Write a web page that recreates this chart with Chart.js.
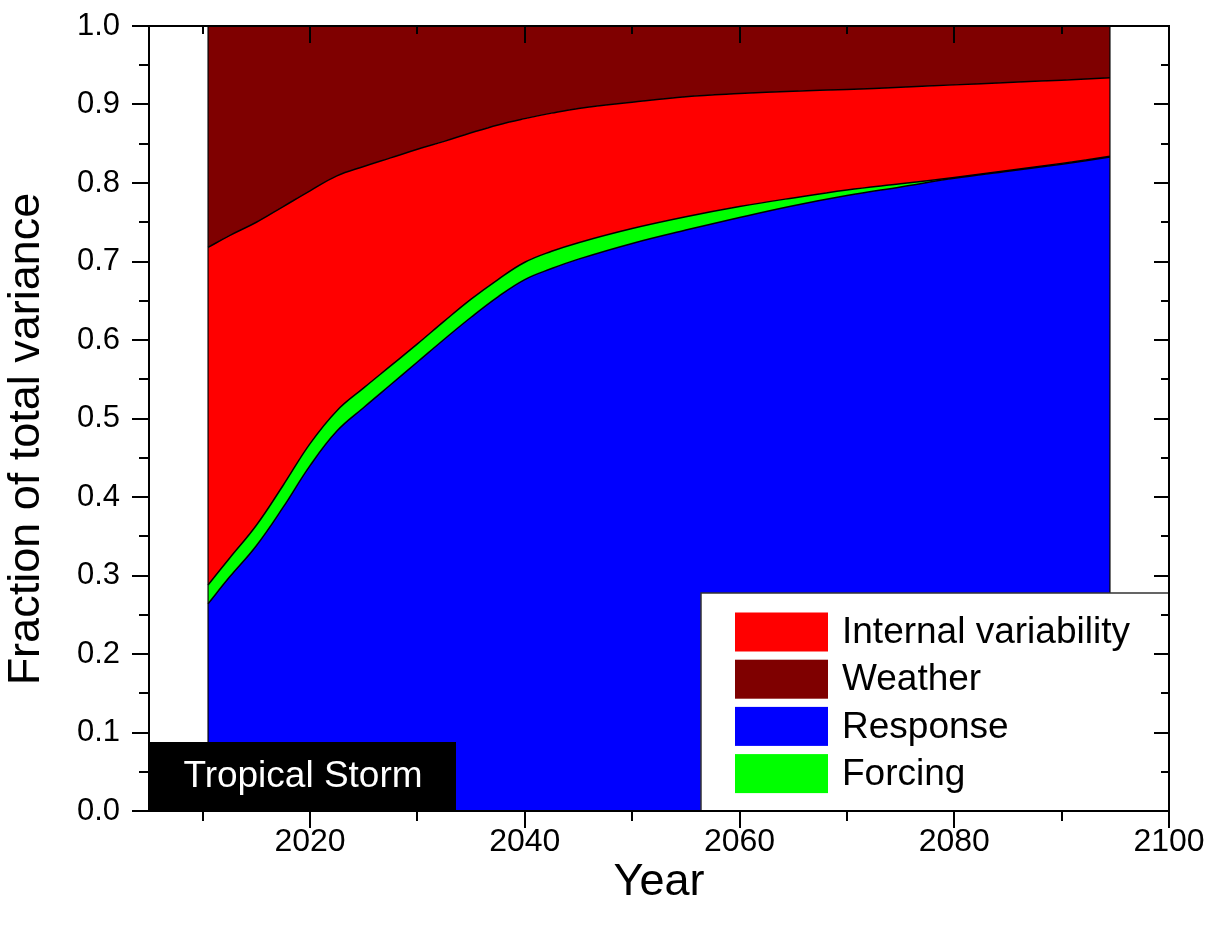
<!DOCTYPE html>
<html><head><meta charset="utf-8">
<script src="https://cdn.jsdelivr.net/npm/chart.js@4.4.1/dist/chart.umd.min.js"></script>
<style>html,body{margin:0;padding:0;background:#fff;}canvas{display:block;}</style>
</head><body>
<canvas id="c" width="1217" height="942"></canvas>
<script>
// ---------- data ----------
const years = [2010.5, 2012.5, 2015, 2017.5, 2020, 2022.5, 2025, 2027.5, 2030, 2032.5, 2035, 2037.5, 2040, 2042.5, 2045, 2050, 2055, 2060, 2065, 2070, 2075, 2080, 2085, 2090, 2094.5];
const response    = [0.264, 0.298, 0.338, 0.387, 0.440, 0.484, 0.514, 0.543, 0.572, 0.601, 0.629, 0.655, 0.677, 0.691, 0.703, 0.723, 0.740, 0.756, 0.771, 0.784, 0.795, 0.806, 0.815, 0.824, 0.833];
const forcing     = [0.024, 0.024, 0.026, 0.028, 0.028, 0.026, 0.025, 0.024, 0.023, 0.023, 0.023, 0.022, 0.022, 0.022, 0.021, 0.019, 0.017, 0.014, 0.010, 0.007, 0.004, 0.001, 0.001, 0.001, 0.001];
const internalVar = [0.430, 0.411, 0.386, 0.355, 0.322, 0.299, 0.282, 0.265, 0.248, 0.229, 0.212, 0.197, 0.183, 0.176, 0.171, 0.161, 0.153, 0.144, 0.136, 0.128, 0.123, 0.118, 0.112, 0.106, 0.100];
const weather     = [0.282, 0.267, 0.250, 0.230, 0.210, 0.191, 0.179, 0.168, 0.157, 0.147, 0.136, 0.126, 0.118, 0.111, 0.105, 0.097, 0.090, 0.086, 0.083, 0.081, 0.078, 0.075, 0.072, 0.069, 0.066];
const yTicks = [0.0, 0.1, 0.2, 0.3, 0.4, 0.5, 0.6, 0.7, 0.8, 0.9, 1.0];
const yMinorTicks = [0.05, 0.15, 0.25, 0.35, 0.45, 0.55, 0.65, 0.75, 0.85, 0.95];
const xTicks = [2020, 2040, 2060, 2080, 2100];
const xMinorTicks = [2010, 2030, 2050, 2070, 2090];
const xRange = [2005, 2100];
const seriesNames = ['Response', 'Forcing', 'Internal variability', 'Weather'];
const seriesColors = ['#0000ff', '#00ff00', '#ff0000', '#7f0000'];
const legendOrder = [2, 3, 0, 1];
const panelLabel = 'Tropical Storm';
const xTitle = 'Year';
const yTitle = 'Fraction of total variance';
// ---------------------------

const FONT = '"Liberation Sans", Arial, sans-serif';
const seriesValues = [response, forcing, internalVar, weather];

const datasets = seriesValues.map((vals, i) => ({
  label: seriesNames[i],
  data: years.map((x, j) => ({x: x, y: vals[j]})),
  backgroundColor: seriesColors[i],
  borderColor: '#000',
  borderWidth: 1.5,
  pointRadius: 0,
  fill: i === 0 ? 'origin' : '-1',
  tension: 0.4
}));

const decor = {
  id: 'decor',
  afterDatasetsDraw(chart) {
    const {ctx, chartArea: a, scales: {x, y}} = chart;
    ctx.save();
    ctx.strokeStyle = '#000'; ctx.lineWidth = 1.2;
    [years[0], years[years.length - 1]].forEach(v => {
      const px = x.getPixelForValue(v);
      ctx.beginPath(); ctx.moveTo(px, y.getPixelForValue(0)); ctx.lineTo(px, y.getPixelForValue(1)); ctx.stroke();
    });
    // panel label box
    ctx.fillStyle = '#000';
    ctx.fillRect(a.left, 742, 307, a.bottom - 742);
    ctx.fillStyle = '#fff';
    ctx.font = '37px ' + FONT;
    ctx.textAlign = 'center'; ctx.textBaseline = 'middle';
    ctx.fillText(panelLabel, a.left + 154, 777);
    // legend
    const lx = 701, ly = 593;
    ctx.fillStyle = '#fff';
    ctx.fillRect(lx, ly, a.right - lx, a.bottom - ly);
    ctx.strokeStyle = '#333'; ctx.lineWidth = 1.5;
    ctx.strokeRect(lx, ly, a.right - lx, a.bottom - ly);
    ctx.font = '37px ' + FONT;
    ctx.textAlign = 'left'; ctx.textBaseline = 'middle';
    legendOrder.forEach((di, k) => {
      const ds = chart.data.datasets[di];
      const cy = 632 + k * 47.2;
      ctx.fillStyle = ds.backgroundColor;
      ctx.fillRect(735, cy - 19.5, 93, 39);
      ctx.fillStyle = '#000';
      ctx.fillText(ds.label, 842, cy + 1);
    });
    ctx.restore();
  },
  afterDraw(chart) {
    const {ctx, chartArea: a, scales: {x, y}} = chart;
    ctx.save();
    ctx.strokeStyle = '#000'; ctx.lineWidth = 2;
    ctx.strokeRect(a.left, a.top, a.right - a.left, a.bottom - a.top);
    ctx.beginPath();
    yTicks.forEach(v => {
      const py = Math.round(y.getPixelForValue(v));
      ctx.moveTo(a.left - 17, py); ctx.lineTo(a.left, py);
      ctx.moveTo(a.right - 15, py); ctx.lineTo(a.right, py);
    });
    yMinorTicks.forEach(v => {
      const py = Math.round(y.getPixelForValue(v));
      ctx.moveTo(a.left - 10, py); ctx.lineTo(a.left, py);
      ctx.moveTo(a.right - 8, py); ctx.lineTo(a.right, py);
    });
    xTicks.forEach(v => {
      const px = Math.round(x.getPixelForValue(v));
      ctx.moveTo(px, a.bottom); ctx.lineTo(px, a.bottom + 17);
      ctx.moveTo(px, a.top); ctx.lineTo(px, a.top + 17);
    });
    xMinorTicks.forEach(v => {
      const px = Math.round(x.getPixelForValue(v));
      ctx.moveTo(px, a.bottom); ctx.lineTo(px, a.bottom + 10);
      ctx.moveTo(px, a.top); ctx.lineTo(px, a.top + 8);
    });
    ctx.stroke();
    // axis titles
    ctx.fillStyle = '#000';
    ctx.font = '45px ' + FONT;
    ctx.textAlign = 'center'; ctx.textBaseline = 'middle';
    ctx.fillText(xTitle, (a.left + a.right) / 2, 883);
    ctx.translate(27, 439);
    ctx.rotate(-Math.PI / 2);
    ctx.fillText(yTitle, 0, 0);
    ctx.restore();
  }
};

new Chart(document.getElementById('c'), {
  type: 'line',
  data: {datasets},
  options: {
    responsive: false,
    devicePixelRatio: 1,
    animation: false,
    layout: {padding: {top: 26, right: 48, left: 0, bottom: 0}},
    plugins: {legend: {display: false}, tooltip: {enabled: false}},
    scales: {
      x: {
        type: 'linear', min: xRange[0], max: xRange[1],
        afterBuildTicks: s => { s.ticks = xTicks.map(v => ({value: v})); },
        afterFit: s => { s.height = 131; s.paddingLeft = 0; s.paddingRight = 0; },
        grid: {display: false, drawTicks: false},
        border: {display: false},
        ticks: {padding: 12, color: '#000', font: {family: FONT, size: 32}, maxRotation: 0, autoSkip: false,
          callback: v => String(v)}
      },
      y: {
        stacked: true, min: 0, max: 1,
        afterBuildTicks: s => { s.ticks = yTicks.map(v => ({value: v})); },
        afterFit: s => { s.width = 149; s.paddingTop = 0; s.paddingBottom = 0; },
        grid: {display: false, drawTicks: false},
        border: {display: false},
        ticks: {padding: 29, color: '#000', font: {family: FONT, size: 31}, callback: v => Number(v).toFixed(1)}
      }
    }
  },
  plugins: [decor]
});
</script>
</body></html>
